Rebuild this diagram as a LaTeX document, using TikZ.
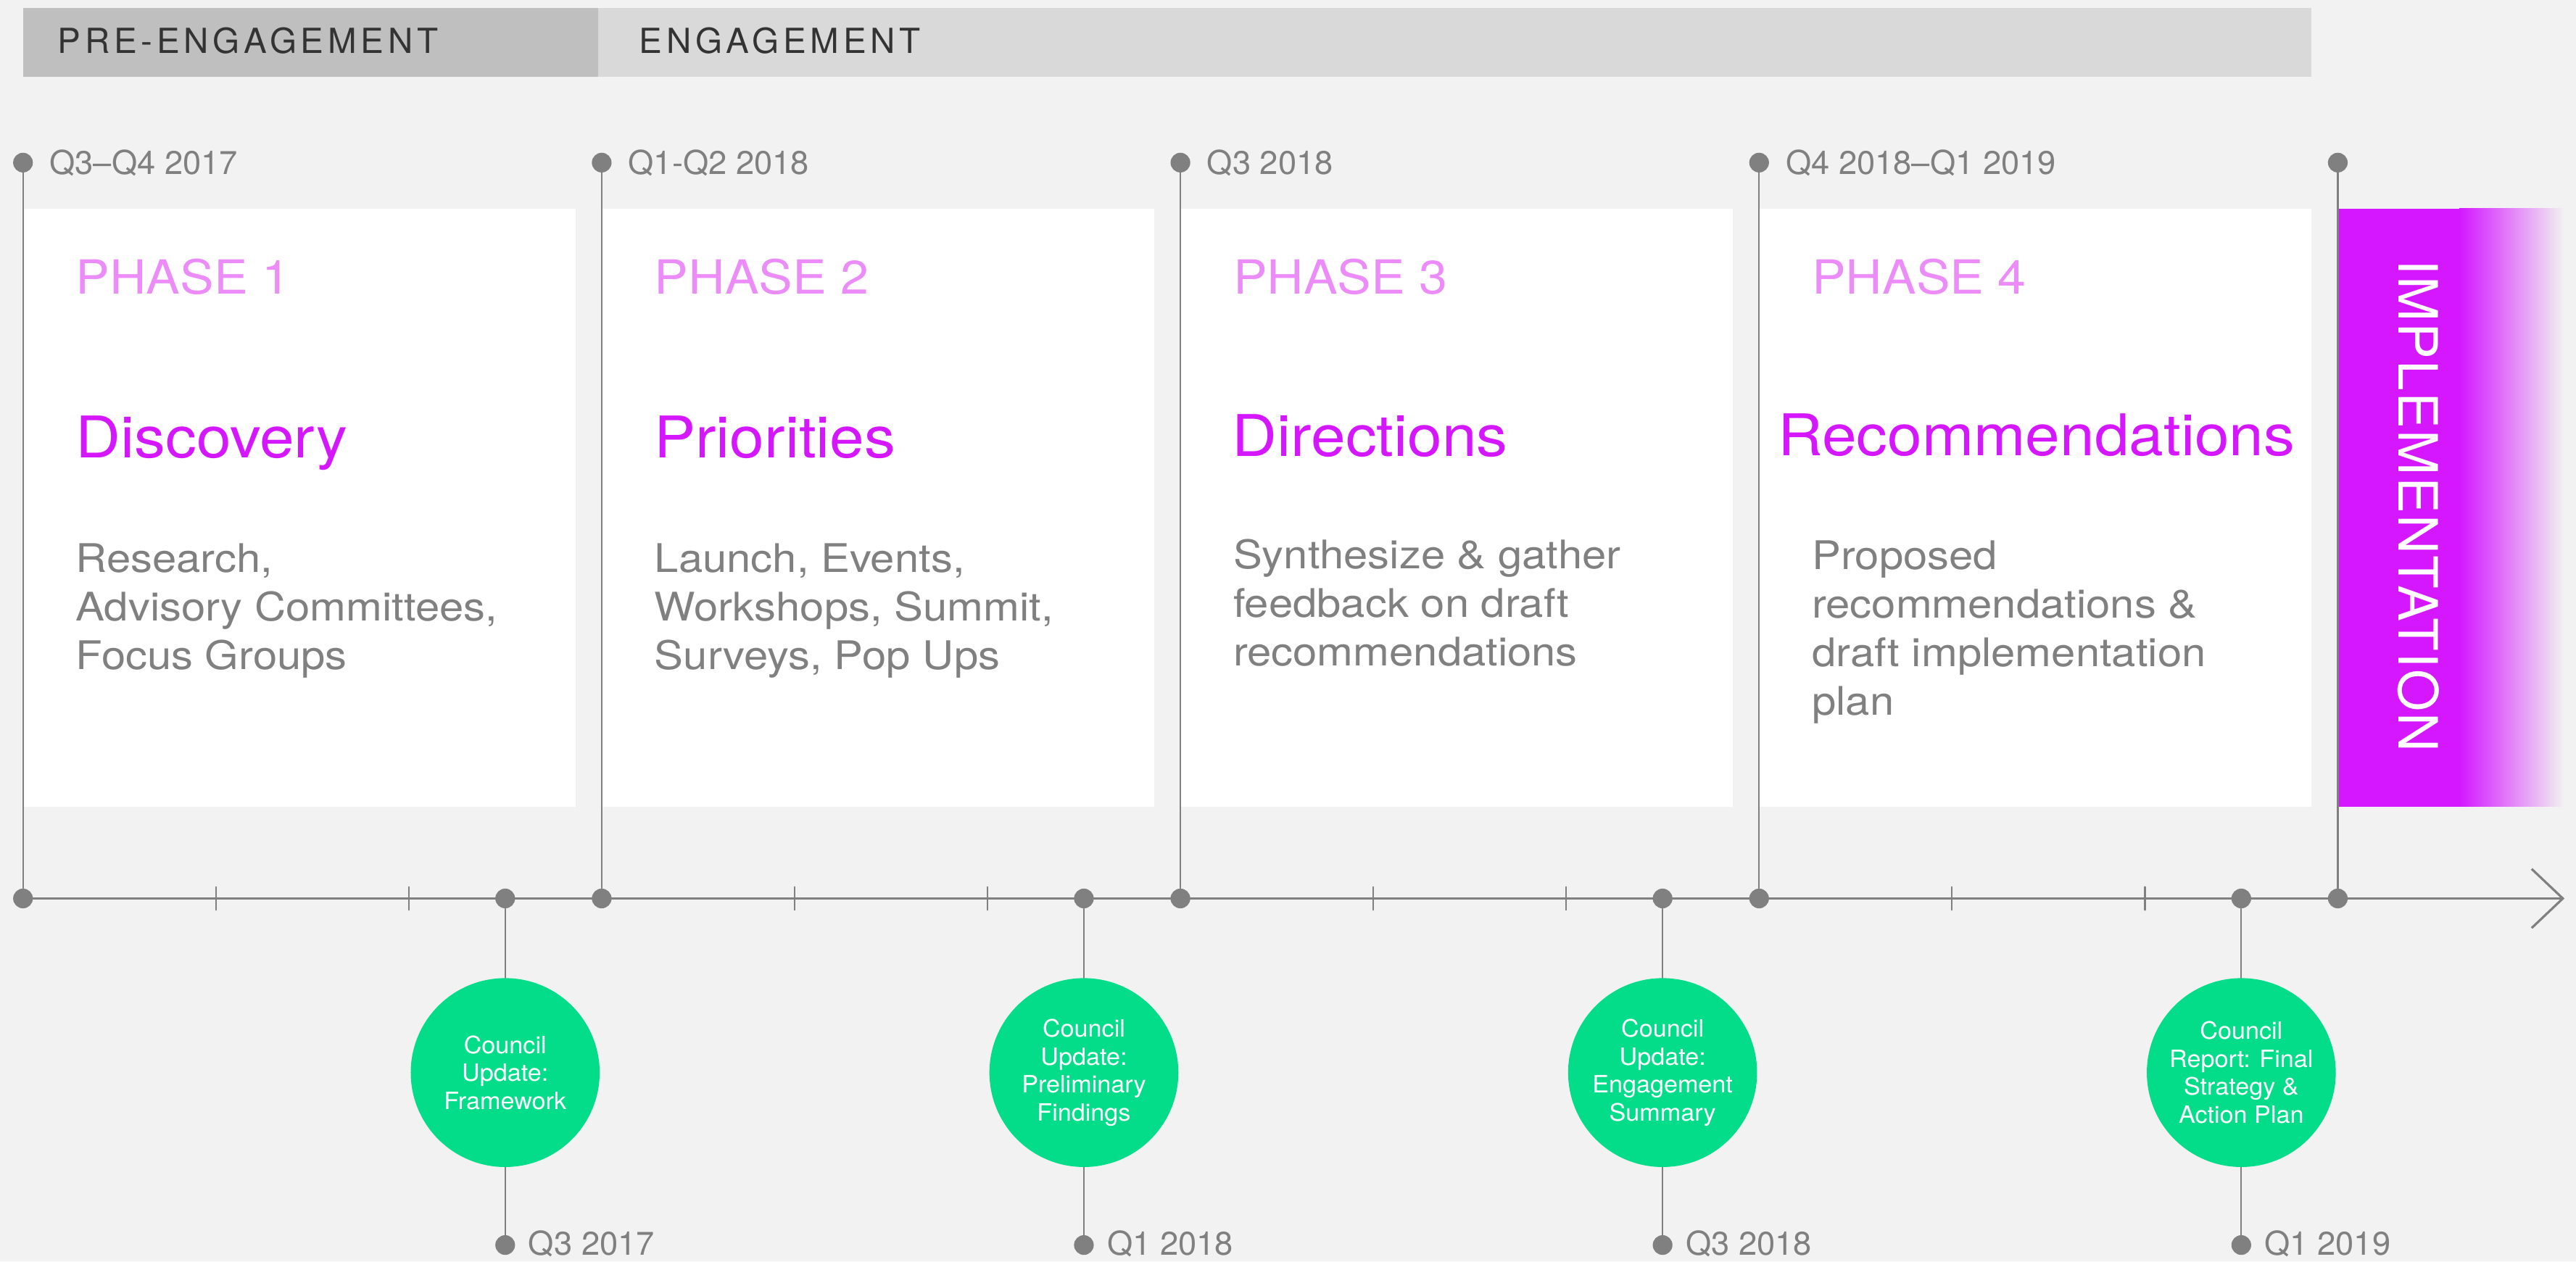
\documentclass[tikz,border=0pt]{standalone}
\usepackage{fontspec}
\setmainfont{TeX Gyre Heros}
\newfontfamily\widefont[FakeStretch=1.08]{TeX Gyre Heros}
\usetikzlibrary{arrows.meta}

\definecolor{bgcol}{HTML}{F2F2F2}
\definecolor{barpre}{HTML}{BFBFBF}
\definecolor{bareng}{HTML}{D9D9D9}
\definecolor{bartext}{HTML}{333333}
\definecolor{linegray}{HTML}{808080}
\definecolor{phasepink}{HTML}{EC8CF9}
\definecolor{titlemag}{HTML}{D417FF}
\definecolor{mint}{HTML}{03DD8A}

\begin{document}
\begin{tikzpicture}[x=1pt,y=-1pt,line cap=round,line join=round,
    dot/.style={circle,fill=linegray,inner sep=0pt,minimum size=12pt},
    vline/.style={color=linegray,line width=1pt},
    axisline/.style={color=linegray,line width=1.4pt},
    barlabel/.style={anchor=base west,inner sep=0pt,text=bartext,font=\fontsize{21}{25}\selectfont\addfontfeature{LetterSpace=12}},
    datelabel/.style={anchor=base west,inner sep=0pt,text=linegray,font=\fontsize{20}{24}\selectfont},
    phasebox/.style={anchor=north west,fill=white,inner sep=0pt,minimum width=336pt,minimum height=364pt},
    phaselabel/.style={anchor=base west,inner sep=0pt,text=phasepink,font=\widefont\fontsize{28.6}{34}\selectfont},
    titlelabel/.style={anchor=base west,inner sep=0pt,text=titlemag,font=\widefont\fontsize{35}{42}\selectfont},
    desclabel/.style={anchor=base west,inner sep=0pt,align=left,text=linegray,font=\widefont\fontsize{24}{29.6}\selectfont\addfontfeature{FakeStretch=1.1}},
    council/.style={circle,fill=mint,inner sep=0pt,minimum size=115pt,align=center,text=white,font=\fontsize{14.5}{17}\selectfont\addfontfeature{FakeStretch=1.04}}]
  \useasboundingbox (0,0) rectangle (1568,768);
  \fill[bgcol] (0,0) rectangle (1568,768);

  % stage bar
  \fill[barpre] (14,5) rectangle (364,47);
  \fill[bareng] (364,5) rectangle (1407,47);
  \node[barlabel] (pre) at (35,32.4) {PRE-ENGAGEMENT};
  \node[barlabel] (eng) at (389,32.4) {ENGAGEMENT};

  % phase cards (\last = baseline of the last description line)
  \foreach \i/\num/\last/\desc in {0/1/407.5/{Research,\\Advisory Committees,\\Focus Groups},
      1/2/407.5/{Launch, Events,\\Workshops, Summit,\\Surveys, Pop Ups},
      2/3/405.5/{Synthesize \& gather\\feedback on draft\\recommendations},
      3/4/435.4/{Proposed\\recommendations \&\\draft implementation\\plan}} {
    \pgfmathsetmacro\xx{14+352.25*\i}
    \node[phasebox] (box\i) at (\xx,127) {};
    \node[phaselabel] (ph\i) at (\xx+32,178.8) {PHASE \num};
    \node[desclabel] (ds\i) at (\xx+32,\last) {\desc};
  }
  \node[titlelabel] (ti0) at (46,278.5) {Discovery};
  \node[titlelabel] (ti1) at (398,278.5) {Priorities};
  \node[titlelabel] (ti2) at (750,278) {Directions};
  \node[titlelabel] (ti3) at (1082,277.5) {Recommendations};

  % implementation block, fading out to the right
  \fill[titlemag] (1423,127) rectangle (1497,491);
  \shade[left color=titlemag,right color=bgcol] (1497,127) rectangle (1561,491);
  \node[rotate=-90,text=white,inner sep=0pt,font=\fontsize{33}{38}\selectfont\addfontfeature{LetterSpace=3}] (impl) at (1472,308) {IMPLEMENTATION};

  % time axis
  \coordinate (tip) at (1561,547);
  \foreach \i in {0,...,3}
  \foreach \k in {1,2}
    \draw[vline] ({14+352.25*\i+117.42*\k},540) -- ({14+352.25*\i+117.42*\k},554);

  % phase starts: date on top, line down to the axis
  \foreach \i/\date in {0/{Q3–Q4 2017},1/{Q1-Q2 2018},2/{Q3 2018},3/{Q4 2018–Q1 2019},4/{}} {
    \pgfmathsetmacro\xx{14+352.25*\i}
    \node[dot] (t\i) at (\xx,99) {};
    \node[dot] (a\i) at (\xx,547) {};
    \node[datelabel] (q\i) at (\xx+16,106) {\date};
    \draw[vline] (t\i) -- (a\i);
  }
  \draw[axisline,-{Straight Barb[length=19pt,width=36pt]}] (a0) -- (tip);
  \foreach \i in {1,...,4}
    \pgfmathtruncatemacro\j{\i-1}
    \draw[axisline] (a\j) -- (a\i);

  % council milestones below the axis
  \foreach \i/\what/\date in {0/{Council\\Update:\\Framework}/{Q3 2017},
      1/{Council\\Update:\\Preliminary\\Findings}/{Q1 2018},
      2/{Council\\Update:\\Engagement\\Summary}/{Q3 2018},
      3/{Council\\Report: Final\\Strategy \&\\Action Plan}/{Q1 2019}} {
    \pgfmathsetmacro\xx{14+352.25*\i+293.5}
    \node[dot] (c\i) at (\xx,547) {};
    \node[council] (m\i) at (\xx,653) {\what};
    \node[dot] (b\i) at (\xx,758) {};
    \node[datelabel] (r\i) at (\xx+14,764) {\date};
    \draw[vline] (c\i) -- (m\i);
    \draw[vline] (m\i) -- (b\i);
  }
\end{tikzpicture}
\end{document}
